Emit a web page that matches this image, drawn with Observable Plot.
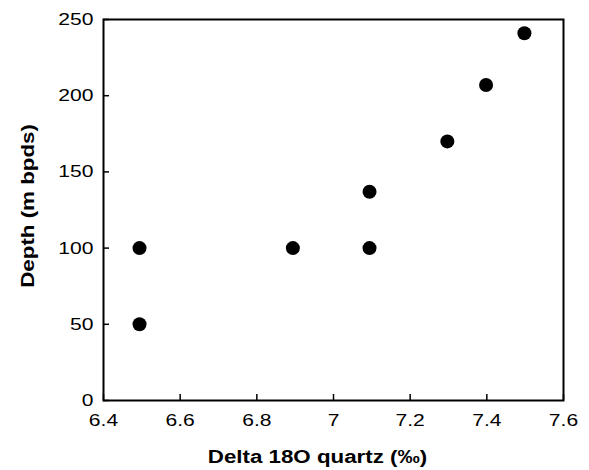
<!DOCTYPE html>
<html>
<head>
<meta charset="utf-8">
<script src="https://cdn.jsdelivr.net/npm/d3@7"></script>
<script src="https://cdn.jsdelivr.net/npm/@observablehq/plot@0.6"></script>
<style>
  html, body { margin: 0; padding: 0; background: #fff; }
</style>
</head>
<body>
<div id="chart"></div>
<script>
// Data
const delta18O = [6.494, 6.494, 6.894, 7.094, 7.094, 7.297, 7.398, 7.498];
const depth    = [50, 100, 100, 100, 137, 170, 207, 241];

const xTicks = [6.4, 6.6, 6.8, 7, 7.2, 7.4, 7.6];
const yTicks = [0, 50, 100, 150, 200, 250];
const xTitle = "Delta 18O quartz (‰)";
const yTitle = "Depth (m bpds)";

const points = delta18O.map((x, i) => ({x, y: depth[i]}));

const chart = Plot.plot({
  width: 589,
  height: 470,
  marginLeft: 103,
  marginRight: 26,
  marginTop: 19,
  marginBottom: 70,
  style: {fontFamily: "'Liberation Sans', Arial, sans-serif", fontSize: "17px", color: "#000", background: "#fff"},
  x: {domain: [6.4, 7.6]},
  y: {domain: [0, 250]},
  marks: [
    Plot.frame({stroke: "#000", strokeWidth: 2}),
    // inward ticks
    Plot.axisX(xTicks, {tickSize: 6, dy: -6, text: null, label: null, stroke: "#000", strokeWidth: 1.5}),
    Plot.axisY(yTicks, {tickSize: 6, dx: 6, text: null, label: null, stroke: "#000", strokeWidth: 1.5}),
    // tick labels
    Plot.axisX(xTicks, {tickSize: 0, tickPadding: 13, label: null, tickFormat: d => String(d), fill: "#000"}),
    Plot.axisY(yTicks, {tickSize: 0, tickPadding: 10, label: null, tickFormat: d => String(d), fill: "#000"}),
    Plot.dot(points, {x: "x", y: "y", r: 7, fill: "#000", stroke: null}),
    Plot.text([xTitle], {text: d => d, frameAnchor: "bottom", dy: 62, dx: -16, lineAnchor: "bottom", fontWeight: "bold", fontSize: 18, fill: "#000"}),
    Plot.text([yTitle], {text: d => d, frameAnchor: "left", dx: -75, dy: -4, rotate: -90, fontWeight: "bold", fontSize: 18, fill: "#000"})
  ]
});

document.getElementById("chart").appendChild(chart);

// The reference's lettering is horizontally stretched (~1.24x); reproduce by stretching glyphs.
chart.querySelectorAll("text").forEach(t => {
  const w = t.getComputedTextLength();
  if (w > 0) {
    const L = w * 1.24;
    const tr = t.getAttribute("transform") || "";
    if (tr.includes("rotate")) {
      // anchor explicitly at start, offset by half the stretched length to stay centred
      t.style.textAnchor = "start";
      const x = parseFloat(t.getAttribute("x") || "0");
      t.setAttribute("x", (x - L / 2).toFixed(1));
    }
    t.setAttribute("textLength", L.toFixed(1));
    t.setAttribute("lengthAdjust", "spacingAndGlyphs");
  }
});
</script>
</body>
</html>
